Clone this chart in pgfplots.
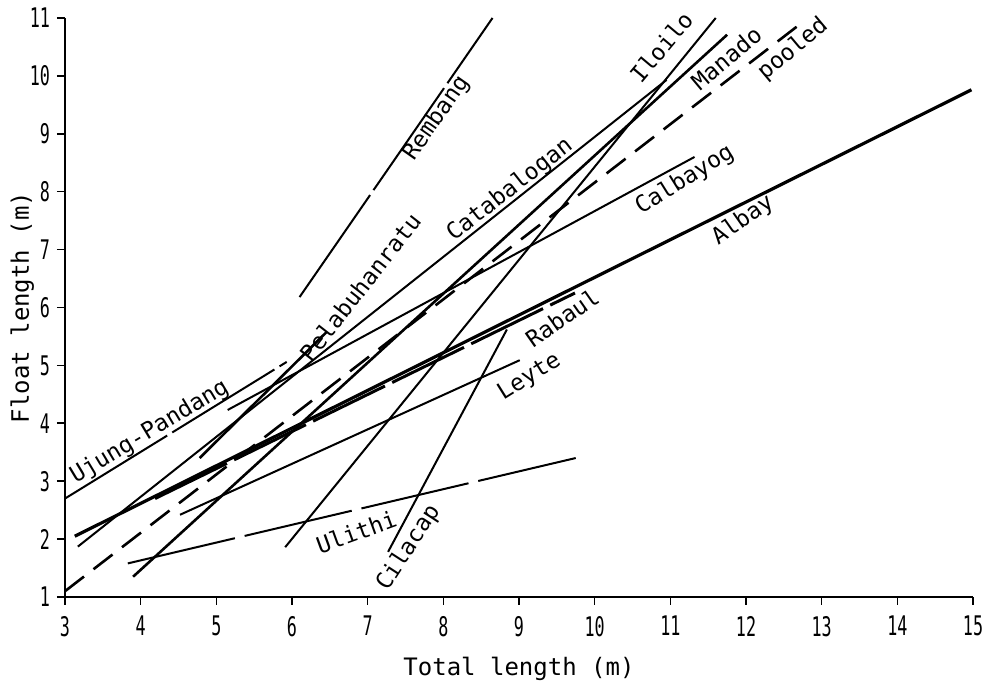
\documentclass[border=0pt]{standalone}
\usepackage{fontspec}
\setmainfont{DejaVu Sans Mono}
\newfontfamily\tickfont{DejaVu Sans Mono}[FakeStretch=0.62]
\usepackage{pgfplots}
\pgfplotsset{compat=1.18}

\newcommand\lbl{\fontsize{11.5}{13}\selectfont}

\begin{document}
\begin{tikzpicture}
\begin{axis}[
    name=ax,
    scale only axis,
    width=454pt, height=289.5pt,
    xmin=3, xmax=15, ymin=1, ymax=11,
    axis x line*=bottom, axis y line*=left,
    axis line style={-, line width=1.4pt},
    xtick={3,...,15}, ytick={1,...,11},
    tick align=outside, major tick length=4pt,
    every tick/.style={black, line width=0.8pt},
    ticklabel style={font=\tickfont\fontsize{13.5}{14}\selectfont},
    xticklabel style={yshift=-2pt},
    /pgf/number format/assume math mode=true,
    xlabel={Total length (m)}, ylabel={Float length (m)},
    label style={font=\fontsize{12}{14}\selectfont},
    xlabel style={at={(axis description cs:0.5,-0.125)}, anchor=center},
    ylabel style={at={(axis description cs:-0.047,0.5)}, anchor=center},
    clip=false,
]
% Ujung-Pandang
\addplot[black, line width=1pt, dash pattern=on 60pt off 3pt] coordinates {(3.0,2.70) (5.93,5.06)};
% Rembang
\addplot[black, line width=1pt, dash pattern=on 62pt off 3pt] coordinates {(6.10,6.18) (8.65,11.0)};
% Pelabuhanratu
\addplot[black, line width=1.3pt] coordinates {(4.78,3.40) (6.46,5.58)};
% Catabalogan
\addplot[black, line width=1pt] coordinates {(3.17,1.87) (10.95,9.93)};
% Iloilo
\addplot[black, line width=1pt] coordinates {(5.91,1.86) (11.60,11.0)};
% Manado
\addplot[black, line width=1.3pt] coordinates {(3.90,1.35) (11.75,10.71)};
% pooled
\addplot[black, line width=1.3pt, dash pattern=on 12pt off 6pt] coordinates {(3.0,1.1) (12.79,10.97)};
% Calbayog
\addplot[black, line width=1pt] coordinates {(5.15,4.23) (11.32,8.60)};
% Albay
\addplot[black, line width=1.6pt] coordinates {(3.13,2.05) (14.98,9.76)};
% Rabaul
\addplot[black, line width=1.5pt, dash pattern=on 40pt off 4pt] coordinates {(4.19,2.70) (9.74,6.25)};
% Leyte
\addplot[black, line width=1pt] coordinates {(4.52,2.42) (9.01,5.09)};
% Ulithi
\addplot[black, line width=1pt, dash pattern=on 55pt off 5pt] coordinates {(3.83,1.58) (9.75,3.40)};
% Cilacap
\addplot[black, line width=1pt] coordinates {(7.27,1.78) (8.84,5.62)};

\node[rotate=31] at (axis cs:4.12,3.85) {\lbl Ujung-Pandang};
\node[rotate=52] at (axis cs:6.90,6.35) {\lbl Pelabuhanratu};
\node[rotate=55] at (axis cs:7.91,9.27) {\lbl Rembang};
\node[rotate=38] at (axis cs:8.88,8.03) {\lbl Catabalogan};
\node[rotate=50] at (axis cs:10.88,10.50) {\lbl Iloilo};
\node[rotate=40] at (axis cs:11.74,10.31) {\lbl Manado};
\node[rotate=40] at (axis cs:12.62,10.46) {\lbl pooled};
\node[rotate=32] at (axis cs:11.19,8.20) {\lbl Calbayog};
\node[rotate=35] at (axis cs:11.96,7.51) {\lbl Albay};
\node[rotate=35] at (axis cs:9.57,5.82) {\lbl Rabaul};
\node[rotate=32] at (axis cs:9.14,4.80) {\lbl Leyte};
\node[rotate=20] at (axis cs:6.85,2.12) {\lbl Ulithi};
\node[rotate=57] at (axis cs:7.54,1.85) {\lbl Cilacap};
\end{axis}
\pgfresetboundingbox
\useasboundingbox ([xshift=-32.5pt,yshift=-42.5pt]ax.south west) rectangle ([xshift=8.5pt,yshift=9pt]ax.north east);
\end{tikzpicture}
\end{document}
